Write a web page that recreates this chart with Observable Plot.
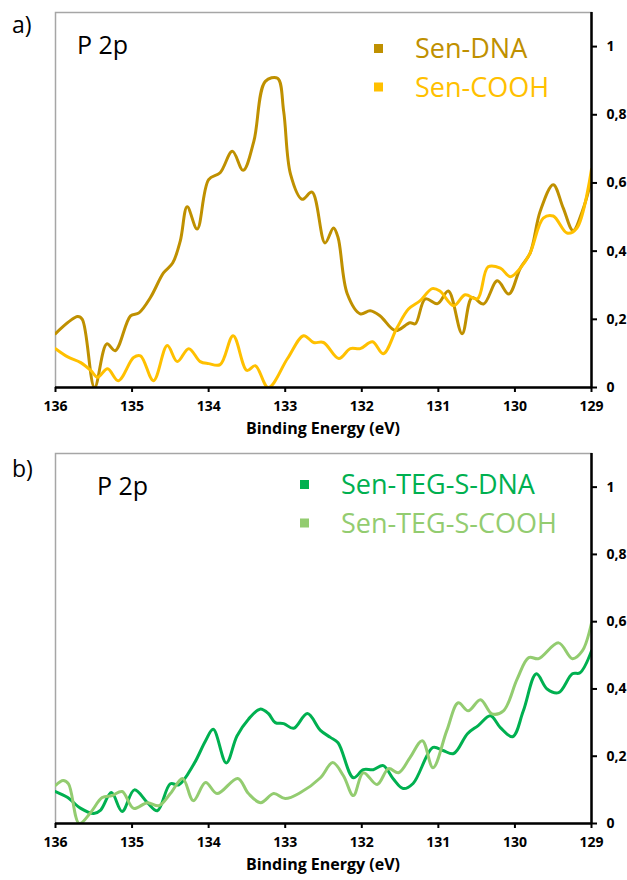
<!DOCTYPE html>
<html><head><meta charset="utf-8">
<script src="https://cdn.jsdelivr.net/npm/d3@7"></script>
<script src="https://cdn.jsdelivr.net/npm/@observablehq/plot@0.6"></script>
<style>
body{margin:0;background:#fff;}
#wrap{position:relative;width:627px;height:880px;background:#fff;}
.panel{position:absolute;left:0;}
g[aria-label="x-axis tick label"] text, g[aria-label="y-axis tick label"] text,
g[aria-label="x-axis tick label"], g[aria-label="y-axis tick label"] {font-size:14px !important;font-weight:bold !important;fill:#000;}
</style></head><body>
<div id="wrap"><div class="panel" id="pa" style="top:0px"></div><div class="panel" id="pb" style="top:441px"></div></div>
<script>
// ---- data ----
const xTicks = [136, 135, 134, 133, 132, 131, 130, 129];
const yTicks = [0, 0.2, 0.4, 0.6, 0.8, 1];
const xDomain = [136, 129];
const yDomain = [0, 1.1];

const seriesA = ["Sen-DNA", "Sen-COOH"];
const colorsA = ["#BF9000", "#FFC000"];
const seriesB = ["Sen-TEG-S-DNA", "Sen-TEG-S-COOH"];
const colorsB = ["#00B050", "#93CC70"];

const senDnaE = [136.00,135.71,135.65,135.49,135.33,135.22,135.02,134.91,134.76,134.59,134.47,134.37,134.28,134.15,134.00,133.85,133.69,133.55,133.41,133.26,133.10,133.02,132.93,132.78,132.65,132.48,132.37,132.31,132.19,132.02,131.89,131.76,131.56,131.37,131.30,131.17,131.01,130.87,130.69,130.56,130.41,130.23,130.08,129.93,129.80,129.67,129.50,129.37,129.24,129.12,129.00];
const senDnaI = [0.158,0.208,0.200,0.000,0.128,0.108,0.210,0.219,0.264,0.336,0.365,0.430,0.530,0.465,0.610,0.630,0.693,0.637,0.722,0.898,0.907,0.810,0.625,0.552,0.573,0.424,0.468,0.440,0.275,0.216,0.225,0.210,0.167,0.190,0.187,0.260,0.246,0.283,0.158,0.264,0.245,0.313,0.274,0.350,0.395,0.517,0.595,0.527,0.460,0.517,0.610];

const senCoohE = [136.00,135.84,135.67,135.54,135.45,135.32,135.18,134.98,134.89,134.72,134.54,134.41,134.26,134.11,134.00,133.85,133.68,133.50,133.39,133.22,132.97,132.76,132.63,132.50,132.30,132.15,132.02,131.86,131.72,131.54,131.39,131.24,131.08,130.98,130.80,130.65,130.49,130.35,130.19,130.06,129.93,129.80,129.63,129.50,129.32,129.19,129.00];
const senCoohI = [0.114,0.090,0.073,0.050,0.030,0.055,0.020,0.088,0.093,0.020,0.123,0.076,0.114,0.076,0.070,0.067,0.152,0.050,0.064,0.000,0.085,0.152,0.132,0.132,0.085,0.114,0.114,0.134,0.099,0.175,0.230,0.254,0.290,0.283,0.240,0.272,0.260,0.354,0.350,0.325,0.350,0.395,0.497,0.503,0.453,0.468,0.640];

const tegDnaE = [136.00,135.84,135.67,135.50,135.41,135.27,135.13,134.97,134.80,134.67,134.50,134.39,134.19,134.04,133.94,133.77,133.63,133.48,133.33,133.22,133.13,133.02,132.89,132.71,132.54,132.41,132.31,132.11,131.98,131.85,131.72,131.59,131.46,131.33,131.07,130.94,130.80,130.62,130.48,130.32,130.19,130.03,129.89,129.72,129.58,129.43,129.25,129.15,129.00];
const tegDnaI = [0.095,0.077,0.045,0.030,0.040,0.092,0.036,0.100,0.062,0.038,0.118,0.115,0.178,0.246,0.280,0.180,0.260,0.310,0.340,0.327,0.300,0.297,0.283,0.327,0.277,0.256,0.240,0.136,0.160,0.160,0.172,0.133,0.104,0.119,0.226,0.217,0.208,0.267,0.291,0.320,0.285,0.258,0.335,0.445,0.400,0.389,0.445,0.448,0.513];

const tegCoohE = [136.00,135.90,135.83,135.69,135.54,135.39,135.26,135.13,134.98,134.80,134.65,134.50,134.34,134.20,134.04,133.89,133.62,133.48,133.32,133.15,133.00,132.80,132.54,132.38,132.24,132.11,131.98,131.80,131.65,131.52,131.37,131.21,131.07,130.89,130.74,130.61,130.45,130.30,130.15,129.97,129.82,129.69,129.43,129.25,129.12,129.00];
const tegCoohI = [0.113,0.128,0.118,0.000,0.033,0.077,0.083,0.095,0.045,0.062,0.053,0.089,0.134,0.068,0.122,0.089,0.134,0.089,0.062,0.089,0.074,0.092,0.136,0.181,0.142,0.083,0.151,0.116,0.163,0.151,0.196,0.246,0.166,0.276,0.359,0.335,0.368,0.326,0.335,0.430,0.493,0.490,0.537,0.490,0.513,0.596];

// ---- helpers ----
function rows(name, es, vs) { return es.map((e, i) => ({s: name, e, v: vs[i]})); }
const fmtY = d => String(+d.toFixed(1)).replace(".", ",");

function makePanel(el, cfg) {
  const data = cfg.series.flatMap((s, i) => rows(s, cfg.es[i], cfg.vs[i]));
  const mTop = 12, mBottom = 45;
  const chart = Plot.plot({
    width: 627, height: mTop + cfg.plotH + mBottom,
    marginLeft: 55, marginRight: 36, marginTop: mTop, marginBottom: mBottom,
    x: {domain: xDomain},
    y: {domain: yDomain},
    color: {domain: cfg.series, range: cfg.colors},
    style: {fontFamily: "'Open Sans', sans-serif", fontSize: "14px", fontWeight: "bold", color: "#000", background: "#fff", overflow: "visible"},
    marks: [
      Plot.frame({stroke: "#a6a6a6", strokeWidth: 1.5}),
      Plot.line(data, {x: "e", y: "v", z: "s", stroke: "s", curve: "catmull-rom", strokeWidth: 3, clip: true}),
      Plot.ruleY([yDomain[0]], {stroke: "#000", strokeWidth: 2.5}),
      Plot.ruleX([xDomain[1]], {stroke: "#000", strokeWidth: 2.5}),
      Plot.axisX({ticks: xTicks, tickSize: 5, tickPadding: 9, label: null, tickFormat: d => String(d), fontSize: 14, fontWeight: "bold", strokeWidth: 2}),
      Plot.axisY({anchor: "right", ticks: yTicks, tickSize: 5, tickPadding: 10, label: null, tickFormat: fmtY, fontSize: 14, fontWeight: "bold", strokeWidth: 2})
    ]
  });
  const svg = d3.select(chart);
  const font = "'Open Sans', sans-serif";
  const txt = (x, y, size, weight, fill, s, anchor) => svg.append("text")
    .attr("x", x).attr("y", y).attr("text-anchor", anchor || "start")
    .attr("font-family", font).attr("font-size", size).attr("font-weight", weight)
    .attr("fill", fill).text(s);
  txt(12, cfg.tagY, 23, "normal", "#000", cfg.tag);
  txt(cfg.pX, 54, 25, "normal", "#000", "P 2p");
  cfg.series.forEach((s, i) => {
    const by = cfg.legY + i * 38.5;
    svg.append("rect").attr("x", cfg.legX).attr("y", by - 14).attr("width", 9).attr("height", 9).attr("fill", cfg.colors[i]);
    txt(cfg.legX + 41, by, 27, "normal", cfg.colors[i], s);
  });
  txt(323, mTop + cfg.plotH + 47, 16, "bold", "#000", "Binding Energy (eV)", "middle");
  el.appendChild(chart);
}

makePanel(document.getElementById("pa"), {
  series: seriesA, colors: colorsA, es: [senDnaE, senCoohE], vs: [senDnaI, senCoohI],
  plotH: 375, tag: "a)", tagY: 33, pX: 77, legX: 374, legY: 58
});
makePanel(document.getElementById("pb"), {
  series: seriesB, colors: colorsB, es: [tegDnaE, tegCoohE], vs: [tegDnaI, tegCoohI],
  plotH: 370, tag: "b)", tagY: 36, pX: 97, legX: 300, legY: 53
});
</script>
</body></html>
